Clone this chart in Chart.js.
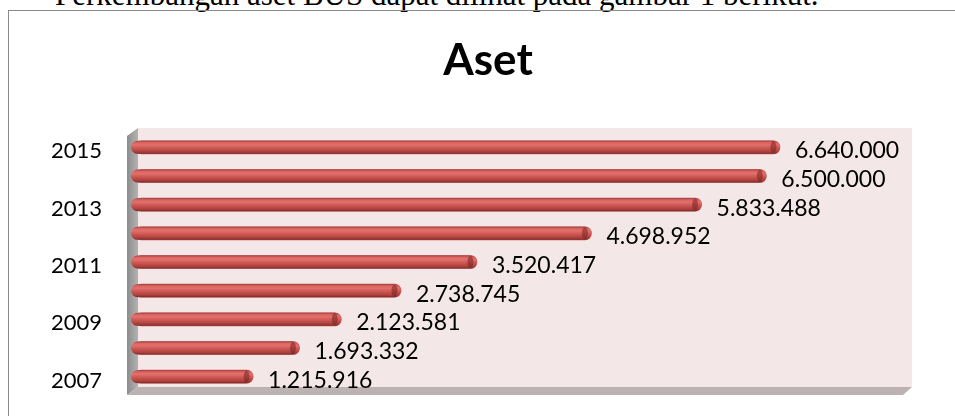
<!DOCTYPE html>
<html>
<head>
	<title>Aset</title>
	<script src="https://cdn.jsdelivr.net/npm/chart.js@4.4.0/dist/chart.umd.min.js" type="text/javascript"></script>
	<style>
        html, body {
            margin: 0;
            padding: 0;
            background: white;
            overflow: hidden;
        }
        #page {
            position: relative;
            width: 955px;
            height: 416px;
        }
        #caption {
            position: absolute;
            left: 55px;
            top: -21px;
            font-family: "Liberation Serif", "Times New Roman", serif;
            font-size: 31px;
            line-height: 31px;
            white-space: nowrap;
            color: #000;
        }
        #frame {
            position: absolute;
            left: 8px;
            top: 10px;
            width: 960px;
            height: 420px;
            border-left: 1.5px solid #8a8a8a;
            border-top: 1.5px solid #8a8a8a;
        }
        #title {
            position: absolute;
            left: 0;
            top: 36px;
            width: 976px;
            text-align: center;
            font-family: Lato, "Open Sans", sans-serif;
            font-weight: bold;
            font-size: 44px;
            line-height: 44px;
            color: #000;
        }
        #asetChart {
            position: absolute;
            left: 0;
            top: 0;
        }
    </style>
</head>
<body>
	<div id="page">
		<div id="caption">Perkembangan aset BUS dapat dilihat pada gambar 1 berikut.</div>
		<div id="frame"></div>
		<canvas id="asetChart" width="955" height="416"></canvas>
		<div id="title">Aset</div>
	</div>
</body>
<script>
	// data
	const years = ['2015', '2014', '2013', '2012', '2011', '2010', '2009', '2008', '2007'];
	const aset = [6640000, 6500000, 5833488, 4698952, 3520417, 2738745, 2123581, 1693332, 1215916];
	const xMax = 8000000;

	Chart.defaults.font.family = "Lato, 'Open Sans', sans-serif";

	function fmt(v) {
		return String(v).replace(/\B(?=(\d{3})+(?!\d))/g, '.');
	}

	// pink back wall, grey side wall and floor
	const walls = {
		id: 'walls',
		beforeDatasetsDraw(chart) {
			const a = chart.chartArea, c = chart.ctx;
			const L = a.left, R = a.right, T = a.top - 5, B = a.bottom - 4;
			c.save();
			c.fillStyle = '#f3e7e7';
			c.fillRect(L + 3, T, R - L - 3, B - T);
			var g = c.createLinearGradient(L - 8, 0, L + 3, 0);
			g.addColorStop(0, '#8c8c8c');
			g.addColorStop(1, '#b3b3b3');
			c.fillStyle = g;
			c.beginPath();
			c.moveTo(L - 8, T + 8);
			c.lineTo(L + 3, T);
			c.lineTo(L + 3, B);
			c.lineTo(L - 8, B + 8);
			c.closePath();
			c.fill();
			c.fillStyle = '#bdb2b2';
			c.beginPath();
			c.moveTo(L - 8, B + 8);
			c.lineTo(L + 3, B);
			c.lineTo(R, B);
			c.lineTo(R - 9, B + 8);
			c.closePath();
			c.fill();
			c.restore();
		}
	};

	// cylinder shading over each bar, plus value labels
	const shading = {
		id: 'shading',
		afterDatasetsDraw(chart) {
			const c = chart.ctx;
			const meta = chart.getDatasetMeta(0);
			c.save();
			meta.data.forEach((bar, i) => {
				const h = bar.height, top = bar.y - h / 2, left = bar.base - 4, right = bar.x;
				const r = h / 2;
				var g = c.createLinearGradient(0, top, 0, top + h);
				g.addColorStop(0, '#9e3b39');
				g.addColorStop(0.12, '#d8625e');
				g.addColorStop(0.3, '#e2716d');
				g.addColorStop(0.55, '#cf5753');
				g.addColorStop(0.85, '#a8403d');
				g.addColorStop(1, '#7e2a28');
				c.fillStyle = g;
				c.beginPath();
				c.moveTo(left + r, top);
				c.lineTo(right - r, top);
				c.arc(right - r, bar.y, r, -Math.PI / 2, Math.PI / 2);
				c.lineTo(left + r, top + h);
				c.arc(left + r, bar.y, r, Math.PI / 2, Math.PI * 1.5);
				c.closePath();
				c.fill();
				// end cap
				c.fillStyle = 'rgba(120,35,33,0.55)';
				c.beginPath();
				c.ellipse(right - r, bar.y, 3, r - 0.5, 0, 0, Math.PI * 2);
				c.fill();
				c.fillStyle = '#000';
				c.font = "23px Lato, 'Open Sans', sans-serif";
				c.textAlign = 'left';
				c.textBaseline = 'alphabetic';
				c.fillText(fmt(aset[i]), right + 15, bar.y + 11);
			});
			c.restore();
		}
	};

	const ctx = document.getElementById('asetChart');
	var chart = new Chart(ctx, {
		type: 'bar',
		data: {
			labels: years,
			datasets: [{
				label: 'Aset',
				data: aset,
				backgroundColor: '#c0504d',
				borderRadius: 7,
				borderSkipped: false,
				barThickness: 13
			}]
		},
		options: {
			indexAxis: 'y',
			responsive: false,
			animation: false,
			layout: {
				padding: { left: 0, right: 43, top: 133, bottom: 25 }
			},
			plugins: {
				legend: { display: false },
				tooltip: { enabled: false },
				title: { display: false }
			},
			scales: {
				x: {
					display: false,
					min: 0,
					max: xMax
				},
				y: {
					grid: { display: false, drawTicks: false },
					border: { display: false },
					afterFit(scale) {
						scale.width = 135;
						scale.paddingTop = 0;
						scale.paddingBottom = 0;
					},
					ticks: {
						autoSkip: false,
						color: '#000',
						padding: 33,
						labelOffset: 4,
						font: { size: 22 },
						callback(val, i) { return i % 2 === 0 ? years[i] : ''; }
					}
				}
			}
		},
		plugins: [walls, shading]
	});
</script>
</html>
